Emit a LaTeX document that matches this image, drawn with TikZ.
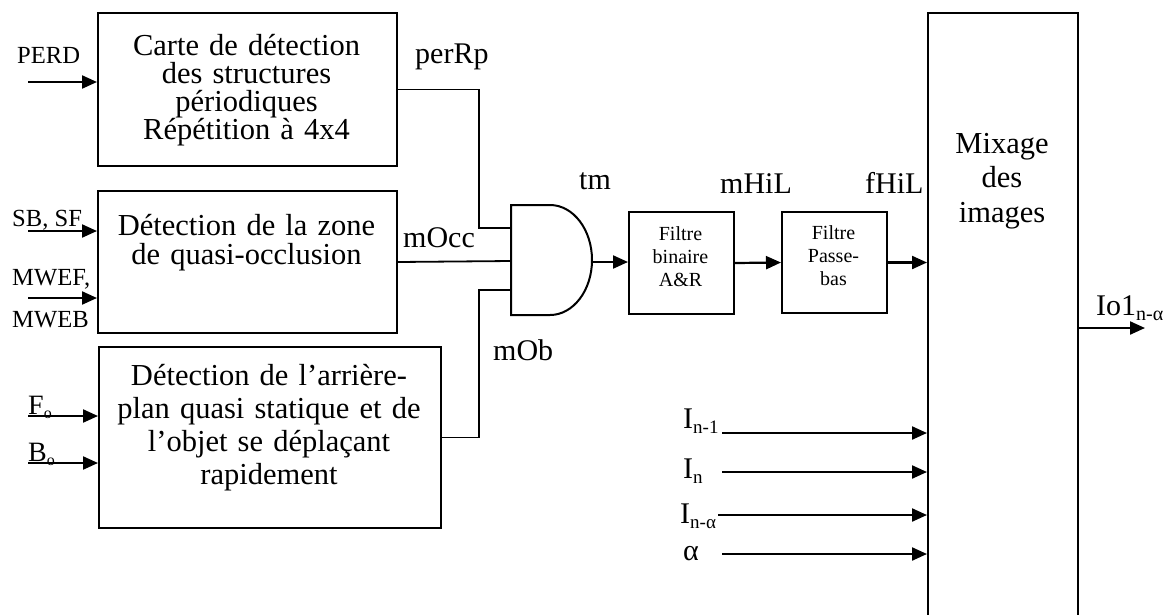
\documentclass[tikz,border=0pt]{standalone}
\usepackage{fontspec}
\setmainfont{Liberation Serif}
\usetikzlibrary{arrows.meta}
\newcommand{\myfs}[2]{\fontsize{#1}{#2}\selectfont}
\newcommand{\mysub}[2][20]{\raisebox{-5pt}{\fontsize{#1}{#1}\selectfont #2}}
\begin{document}
\begin{tikzpicture}[x=1pt,y=-1pt,
  box/.style={draw, line width=2pt, rectangle, anchor=north west, inner sep=0pt},
  wire/.style={line width=1.8pt},
  arr/.style={line width=2.2pt, -{Triangle[length=15pt,width=13pt]}},
  lbl/.style={anchor=base west, inner sep=0pt, font=\myfs{30}{30}},
  inlbl/.style={anchor=base west, inner sep=0pt, font=\myfs{24.6}{24.6}},
  btext/.style={anchor=base, inner sep=0pt, align=center, text width=#1}]
\useasboundingbox (0,0) rectangle (1168,614);
\clip (0,0) rectangle (1168,614);

% boxes
\node[box, minimum width=299pt, minimum height=153pt] (b1) at (97,12) {};
\node[box, minimum width=299pt, minimum height=142pt] (b2) at (97,190) {};
\node[box, minimum width=342pt, minimum height=181pt] (b3) at (98,346) {};
\node[box, minimum width=105pt, minimum height=102pt] (f1) at (628,211) {};
\node[box, minimum width=105pt, minimum height=101pt] (f2) at (781,211) {};
\node[box, minimum width=150pt, minimum height=610pt] (mix) at (927,12) {};

% box texts
\node[btext=290pt, font=\myfs{30.5}{28}] (t1) at (246.5,55) {Carte de détection\\des structures\\périodiques\\Répétition à 4x4};
\node[btext=290pt, font=\myfs{30.5}{29}] (t2) at (246.5,235) {Détection de la zone\\de quasi-occlusion};
\node[btext=336pt, font=\myfs{30.5}{33}] (t3) at (269,385) {Détection de l’arrière-\\plan quasi statique et de\\l’objet se déplaçant\\rapidement};
\node[btext=100pt, font=\myfs{20}{23}] (tf1) at (680.5,240) {Filtre\\binaire\\A\&R};
\node[btext=100pt, font=\myfs{20}{23}] (tf2) at (833.5,239) {Filtre\\Passe-\\bas};
\node[btext=140pt, font=\myfs{30.5}{34.5}] (tm) at (1002,153) {Mixage\\des\\images};

% AND gate
\draw[line width=2pt] (511,205) -- (550,205)
  .. controls (573.2,205) and (592,229.6) .. (592,260)
  .. controls (592,290.4) and (573.2,315) .. (550,315) -- (511,315) -- cycle;
\coordinate (gin1) at (511,228);
\coordinate (gin2) at (511,261);
\coordinate (gin3) at (511,290);
\coordinate (gout) at (592,262);

% connectors to gate
\draw[wire] (b1.east) -| ([xshift=-32pt]gin1) -- (gin1);
\draw[wire] (b2.east) -- (gin2);
\draw[wire] (b3.east) -| ([xshift=-32pt]gin3) -- (gin3);

% chain
\draw[arr] (gout) -- (gout -| f1.west);
\draw[arr] (f1.east) -- (f2.west);
\draw[arr] (f2.east) -- (f2.east -| mix.west);

% output
\coordinate (out) at (1145,328);
\draw[arr] (mix.east |- out) -- (out);
\node[lbl] (lout) at (1096,315) {Io1\mysub[20]{n-α}};

% left inputs
\coordinate (p1) at (28,82);
\coordinate (p2) at (28,231);
\coordinate (p3) at (28,298);
\coordinate (p4) at (28,416);
\coordinate (p5) at (28,463);
\draw[arr] (p1) -- (p1 -| b1.west);
\draw[arr] (p2) -- (p2 -| b2.west);
\draw[arr] (p3) -- (p3 -| b2.west);
\draw[arr] (p4) -- (p4 -| b3.west);
\draw[arr] (p5) -- (p5 -| b3.west);
\node[inlbl] (lperd) at (17,63) {PERD};
\node[inlbl] (lsb) at (12,226) {SB, SF};
\node[inlbl] (lmwef) at (12,285) {MWEF,};
\node[inlbl] (lmweb) at (12,327) {MWEB};
\node[anchor=base west, inner sep=0pt, font=\myfs{28}{28}] (lfo) at (28,414) {F\raisebox{-4pt}{\myfs{16}{16}o}};
\node[anchor=base west, inner sep=0pt, font=\myfs{28}{28}] (lbo) at (28,461) {B\raisebox{-4pt}{\myfs{16}{16}o}};

% signal labels
\node[lbl] (lper) at (415,63) {perRp};
\node[lbl] (ltm) at (579,189) {tm};
\node[lbl] (locc) at (403,247) {mOcc};
\node[lbl] (lob) at (493,360) {mOb};
\node[lbl] (lmh) at (720,193) {mHiL};
\node[lbl] (lfh) at (865,193) {fHiL};

% bottom-right inputs
\coordinate (s1) at (722,433);
\coordinate (s2) at (722,472);
\coordinate (s3) at (718,515);
\coordinate (s4) at (722,554);
\draw[arr] (s1) -- (s1 -| mix.west);
\draw[arr] (s2) -- (s2 -| mix.west);
\draw[arr] (s3) -- (s3 -| mix.west);
\draw[arr] (s4) -- (s4 -| mix.west);
\node[lbl] (li1) at (683,428) {I\mysub[19]{n-1}};
\node[lbl] (li2) at (683,478) {I\mysub[19]{n}};
\node[lbl] (li3) at (680,523) {I\mysub[19]{n-α}};
\node[lbl] (li4) at (683,560) {α};
\end{tikzpicture}
\end{document}
